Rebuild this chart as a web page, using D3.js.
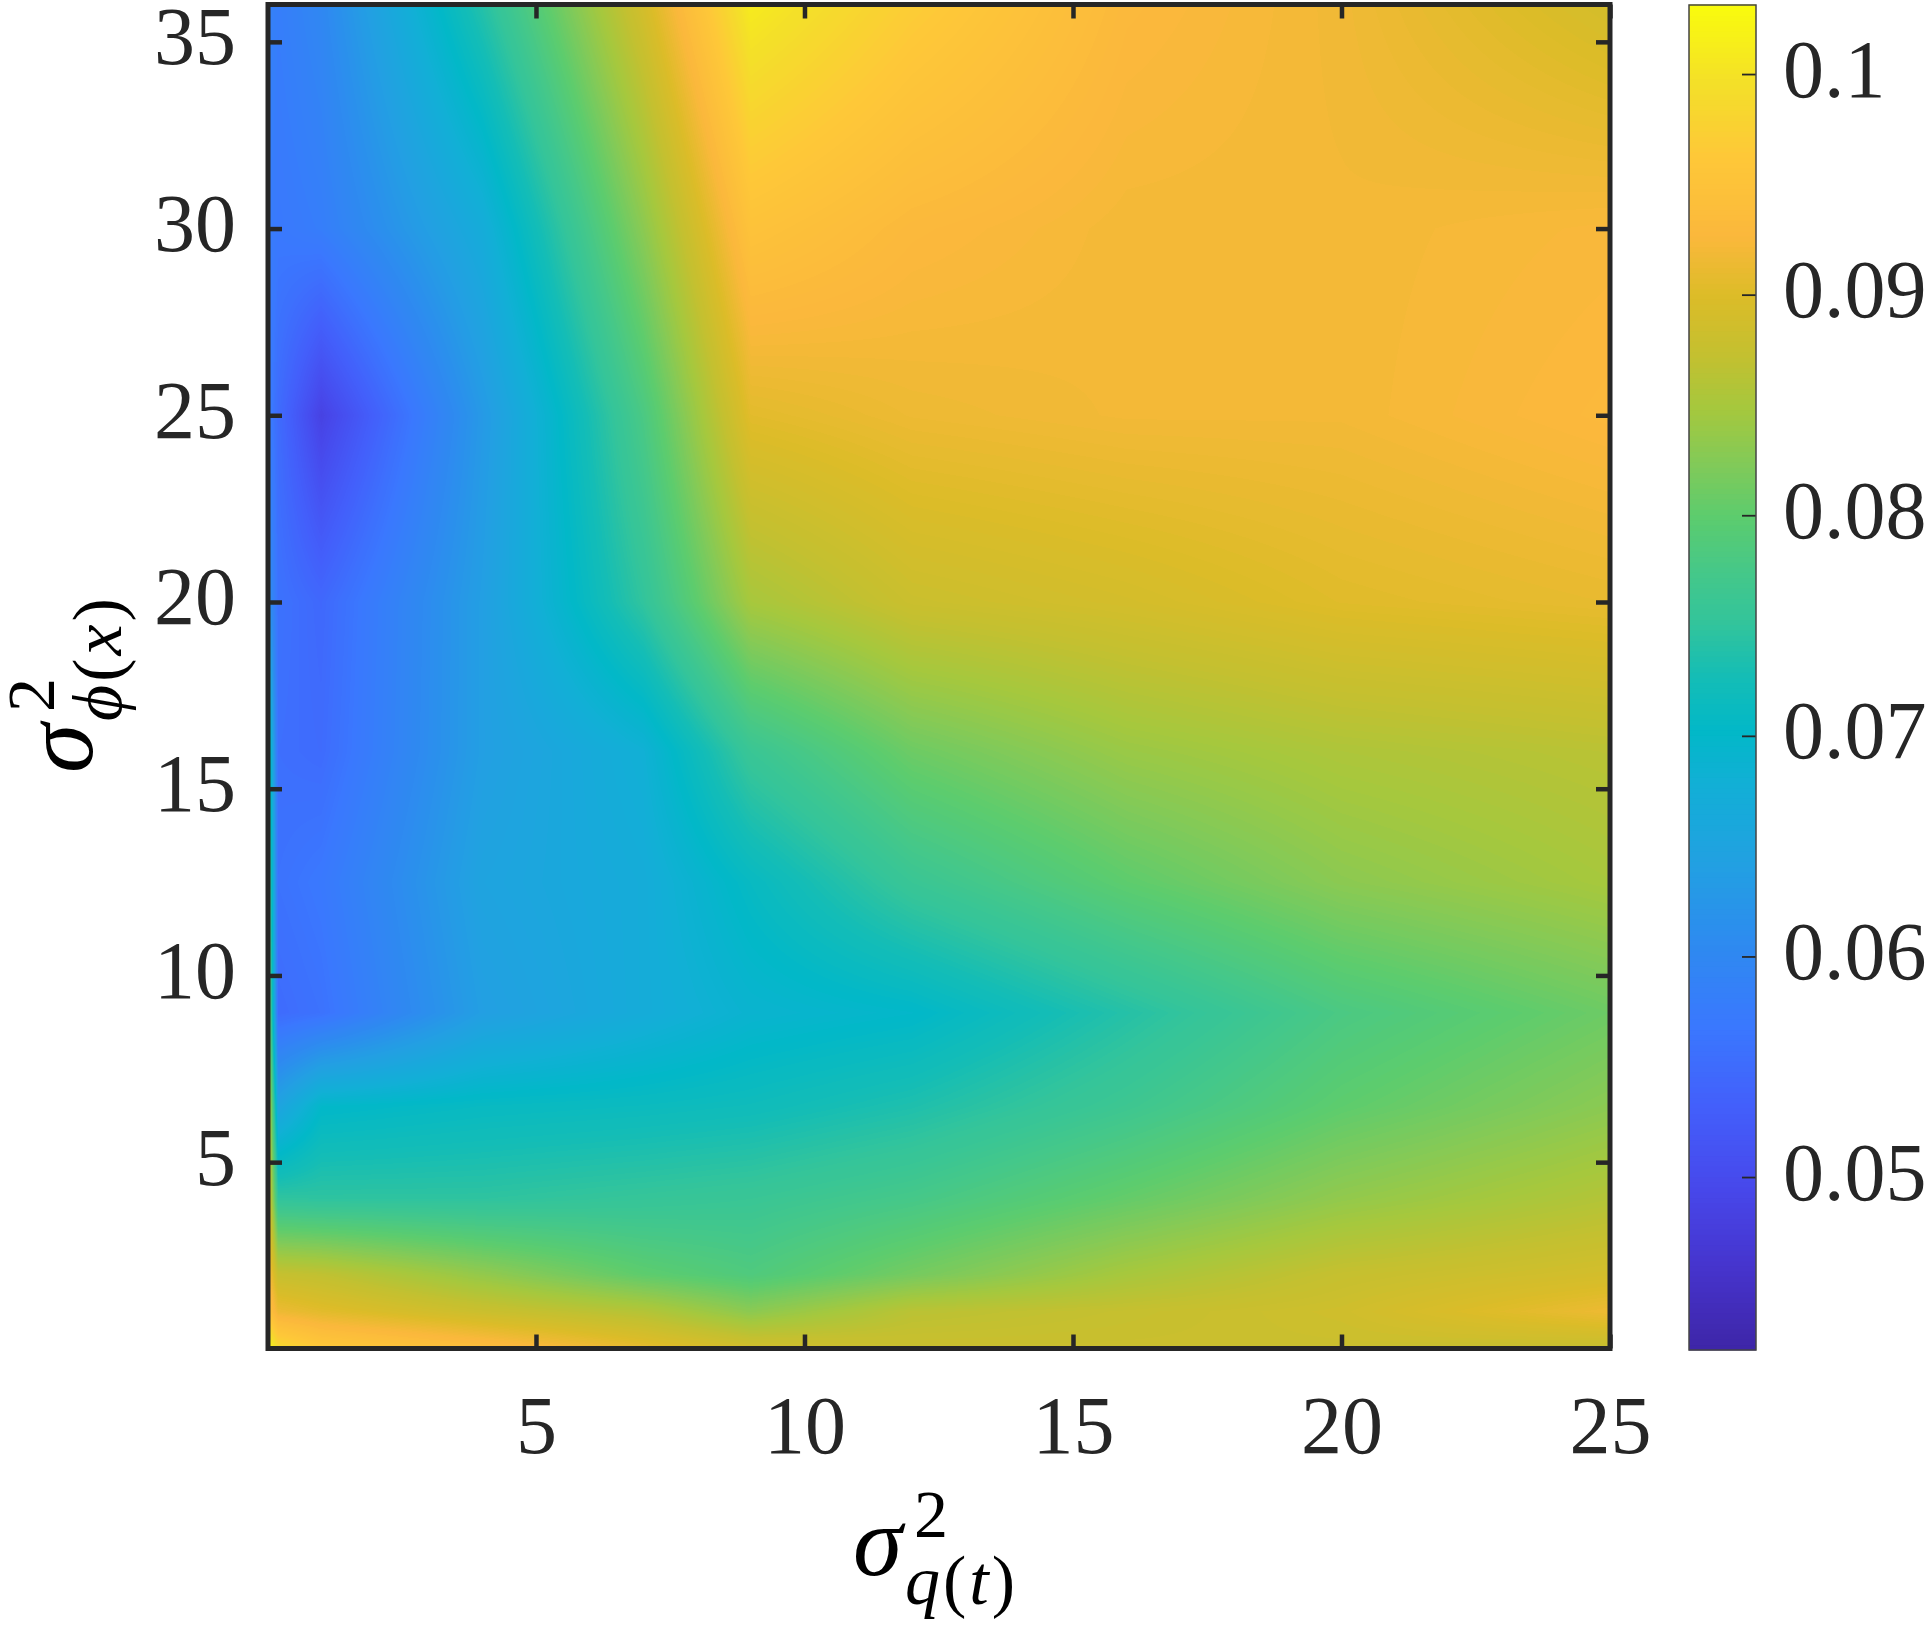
<!DOCTYPE html>
<html><head><meta charset="utf-8">
<script src="https://cdn.jsdelivr.net/npm/d3@7"></script>
<style>body{margin:0;background:#fff} svg{display:block}</style>
</head><body>
<svg id="chart" width="1928" height="1626"></svg>
<script>
// ---- data ----
const xGrid = [0.01, 0.2, 1, 4, 7, 9, 12, 16, 20, 25];            // sigma^2_q(t)
const yGrid = [0.01, 1, 2, 4, 6.5, 9, 12.5, 16, 20, 25, 30, 36];   // sigma^2_phi(x)
// one row per yGrid value, columns follow xGrid
const z_y0    = [0.103, 0.099, 0.0965, 0.094, 0.091, 0.089, 0.088, 0.088, 0.088, 0.0875];
const z_y1    = [0.095, 0.0915, 0.0905, 0.088, 0.086, 0.083, 0.0865, 0.0875, 0.0885, 0.0915];
const z_y2    = [0.093, 0.0875, 0.087, 0.0835, 0.080, 0.0785, 0.0815, 0.085, 0.0875, 0.089];
const z_y4    = [0.091, 0.075, 0.0748, 0.0748, 0.0755, 0.076, 0.0775, 0.0805, 0.0835, 0.086];
const z_y6_5  = [0.090, 0.065, 0.070, 0.071, 0.0715, 0.072, 0.0735, 0.0765, 0.080, 0.083];
const z_y9    = [0.085, 0.055, 0.056, 0.064, 0.067, 0.069, 0.070, 0.074, 0.078, 0.081];
const z_y12_5 = [0.080, 0.056, 0.057, 0.065, 0.067, 0.071, 0.076, 0.080, 0.083, 0.085];
const z_y16   = [0.075, 0.0555, 0.055, 0.064, 0.068, 0.076, 0.081, 0.084, 0.0855, 0.0865];
const z_y20   = [0.062, 0.056, 0.0545, 0.064, 0.075, 0.085, 0.088, 0.089, 0.0903, 0.091];
const z_y25   = [0.058, 0.055, 0.0485, 0.063, 0.078, 0.0905, 0.0915, 0.092, 0.092, 0.093];
const z_y30   = [0.058, 0.057, 0.058, 0.067, 0.083, 0.095, 0.093, 0.092, 0.092, 0.0925];
const z_y36   = [0.059, 0.058, 0.060, 0.074, 0.089, 0.101, 0.097, 0.093, 0.0918, 0.089];
const zRows = [z_y0, z_y1, z_y2, z_y4, z_y6_5, z_y9, z_y12_5, z_y16, z_y20, z_y25, z_y30, z_y36];

const xTicks = [5, 10, 15, 20, 25];
const yTicks = [5, 10, 15, 20, 25, 30, 35];
const cTicks = [0.05, 0.06, 0.07, 0.08, 0.09, 0.1];
const cTickLabels = ["0.05", "0.06", "0.07", "0.08", "0.09", "0.1"];
const cLimits = [0.04216, 0.10313];

// parula (approximate key colours)
const parulaT = [0.00, 0.06, 0.12, 0.18, 0.24, 0.30, 0.36, 0.42, 0.46, 0.50, 0.54, 0.58, 0.62, 0.66, 0.70, 0.74, 0.785, 0.83, 0.89, 0.94, 1.00];
const parulaC = ["#3e26a8", "#4634cd", "#4748eb", "#435ffb", "#3a78fe", "#2e8af0", "#22a0e2", "#12afd6", "#02b8c8", "#14bdb6", "#32c49c", "#46c888", "#5ccc6e", "#82ca58", "#a5c83e", "#c3c030", "#dcbc28", "#fbb83c", "#fec838", "#f4de2a", "#f9fb0e"];

// ---- scales ----
const INK = "#262626";
const FONT = "'Liberation Serif', 'Times New Roman', serif";
const TICKFS = 82;
const x = d3.scaleLinear().domain([0.01, 25]).range([268, 1610]);
const y = d3.scaleLinear().domain([0.01, 36]).range([1348.5, 4.5]);
const parula = d3.scaleLinear().domain(parulaT).range(parulaC).interpolate(d3.interpolateRgb).clamp(true);
const NLEV = 256;
const cmap = d3.range(NLEV).map(k => d3.rgb(parula(k / (NLEV - 1))));
function colorIndex(v) {
  const t = (v - cLimits[0]) / (cLimits[1] - cLimits[0]);
  return Math.max(0, Math.min(NLEV - 1, Math.floor(t * NLEV)));
}

function zAt(xv, yv) {
  let i = d3.bisectRight(xGrid, xv) - 1; i = Math.max(0, Math.min(xGrid.length - 2, i));
  let j = d3.bisectRight(yGrid, yv) - 1; j = Math.max(0, Math.min(yGrid.length - 2, j));
  const tx = Math.max(0, Math.min(1, (xv - xGrid[i]) / (xGrid[i + 1] - xGrid[i])));
  const ty = Math.max(0, Math.min(1, (yv - yGrid[j]) / (yGrid[j + 1] - yGrid[j])));
  const a = zRows[j][i], b = zRows[j][i + 1], c = zRows[j + 1][i], d = zRows[j + 1][i + 1];
  return (1 - tx) * (1 - ty) * a + tx * (1 - ty) * b + (1 - tx) * ty * c + tx * ty * d;
}

const svg = d3.select("#chart");

// ---- surface image ----
const X0 = Math.floor(x.range()[0]), X1 = Math.ceil(x.range()[1]);
const Y0 = Math.floor(y.range()[1]), Y1 = Math.ceil(y.range()[0]);
const pw = X1 - X0, ph = Y1 - Y0;
const canvas = document.createElement("canvas");
canvas.width = pw; canvas.height = ph;
const ctx = canvas.getContext("2d");
const img = ctx.createImageData(pw, ph);
for (let py = 0; py < ph; py++) {
  const yv = y.invert(Y0 + py + 0.5);
  for (let px = 0; px < pw; px++) {
    const xv = x.invert(X0 + px + 0.5);
    const col = cmap[colorIndex(zAt(xv, yv))];
    const o = (py * pw + px) * 4;
    img.data[o] = col.r; img.data[o + 1] = col.g; img.data[o + 2] = col.b; img.data[o + 3] = 255;
  }
}
ctx.putImageData(img, 0, 0);
svg.append("image").attr("x", X0).attr("y", Y0).attr("width", pw).attr("height", ph)
  .attr("preserveAspectRatio", "none").attr("href", canvas.toDataURL());

// ---- axes (ticks inward on all four sides) ----
const TL = 14;
function styleAxis(g) {
  g.select(".domain").remove();
  g.selectAll(".tick line").attr("stroke", INK).attr("stroke-width", 4.5);
}
svg.append("g").attr("transform", `translate(0,${y.range()[0]})`)
  .call(d3.axisBottom(x).tickValues(xTicks).tickSizeInner(-TL).tickSizeOuter(0).tickFormat(d => d))
  .call(styleAxis)
  .call(g => g.selectAll(".tick text").attr("y", 104).attr("dy", null)
    .attr("font-family", FONT).attr("font-size", TICKFS).attr("fill", INK));
svg.append("g").attr("transform", `translate(0,${y.range()[1]})`)
  .call(d3.axisTop(x).tickValues(xTicks).tickSizeInner(-TL).tickSizeOuter(0).tickFormat(""))
  .call(styleAxis);
svg.append("g").attr("transform", `translate(${x.range()[0]},0)`)
  .call(d3.axisLeft(y).tickValues(yTicks).tickSizeInner(-TL).tickSizeOuter(0).tickFormat(d => d))
  .call(styleAxis)
  .call(g => g.selectAll(".tick text").attr("x", -32).attr("dy", null).attr("y", 22)
    .attr("font-family", FONT).attr("font-size", TICKFS).attr("fill", INK));
svg.append("g").attr("transform", `translate(${x.range()[1]},0)`)
  .call(d3.axisRight(y).tickValues(yTicks).tickSizeInner(-TL).tickSizeOuter(0).tickFormat(""))
  .call(styleAxis);

// frame
svg.append("rect").attr("x", x.range()[0]).attr("y", y.range()[1])
  .attr("width", x.range()[1] - x.range()[0]).attr("height", y.range()[0] - y.range()[1])
  .attr("fill", "none").attr("stroke", INK).attr("stroke-width", 5);

// ---- axis labels ----
function mathLabel(g, sub) {
  const t = g.append("text").attr("font-family", FONT).attr("fill", "#000");
  t.append("tspan").attr("x", 0).attr("y", 0).attr("font-size", 100).attr("font-style", "italic").text("σ");
  t.append("tspan").attr("x", 61).attr("y", -38).attr("font-size", 68).text("2");
  const s = g.append("text").attr("font-family", FONT).attr("fill", "#000").attr("font-size", 70)
    .attr("x", 52).attr("y", 29).attr("letter-spacing", 3);
  s.append("tspan").attr("font-style", "italic").text(sub[0]);
  s.append("tspan").text("(");
  s.append("tspan").attr("font-style", "italic").text(sub[1]);
  s.append("tspan").text(")");
}
mathLabel(svg.append("g").attr("transform", "translate(853,1575)"), ["q", "t"]);
mathLabel(svg.append("g").attr("transform", "translate(92,773) rotate(-90)"), ["ϕ", "x"]);

// ---- colorbar ----
const cbX = 1689, cbW = 67;
const cb = d3.scaleLinear().domain(cLimits).range([1350, 5]);
const step = (cLimits[1] - cLimits[0]) / NLEV;
svg.append("g").selectAll("rect").data(d3.range(NLEV)).join("rect")
  .attr("x", cbX).attr("width", cbW)
  .attr("y", k => cb(cLimits[0] + (k + 1) * step) - 0.5)
  .attr("height", k => cb(cLimits[0] + k * step) - cb(cLimits[0] + (k + 1) * step) + 1)
  .attr("fill", k => cmap[k].toString());
svg.append("g").attr("transform", `translate(${cbX + cbW},0)`)
  .call(d3.axisRight(cb).tickValues(cTicks).tickSizeInner(-TL).tickSizeOuter(0).tickFormat((d, i) => cTickLabels[i]))
  .call(g => g.select(".domain").remove())
  .call(g => g.selectAll(".tick line").attr("stroke", INK).attr("stroke-width", 1.8))
  .call(g => g.selectAll(".tick text").attr("x", 27).attr("dy", null).attr("y", 22)
    .attr("font-family", FONT).attr("font-size", TICKFS).attr("fill", INK));
svg.append("rect").attr("x", cbX).attr("y", cb.range()[1]).attr("width", cbW)
  .attr("height", cb.range()[0] - cb.range()[1])
  .attr("fill", "none").attr("stroke", "#444").attr("stroke-width", 1.5);
</script>
</body></html>
